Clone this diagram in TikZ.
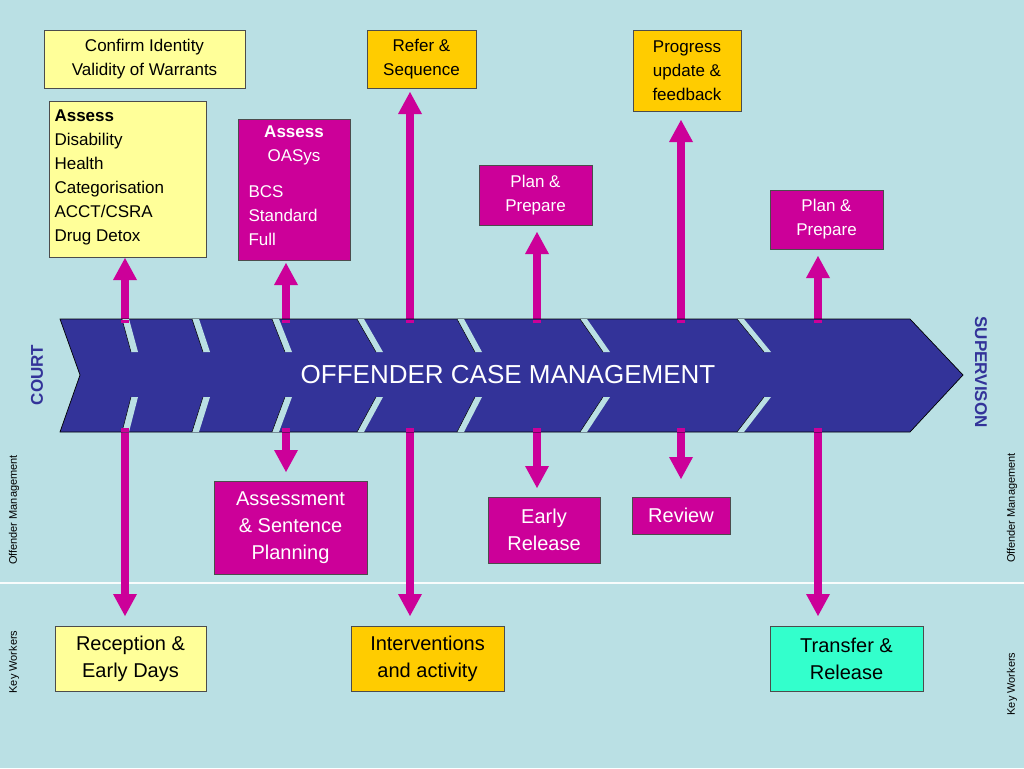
\documentclass[tikz,border=0pt]{standalone}
\usepackage{fontspec}
\setmainfont{Liberation Sans}
\begin{document}
\definecolor{bg}{RGB}{186,224,228}
\definecolor{mag}{RGB}{204,0,153}
\definecolor{yel}{RGB}{255,255,153}
\definecolor{org}{RGB}{255,204,0}
\definecolor{teal}{RGB}{51,255,204}
\definecolor{navy}{RGB}{51,51,153}
\begin{tikzpicture}[x=1pt,y=-1pt,
  box/.style={draw=black!70,line width=0.8pt,inner sep=0pt,font=\fontsize{17}{24}\selectfont,align=center},
  yb/.style={box,fill=yel},
  ob/.style={box,fill=org},
  mb/.style={box,fill=mag,text=white},
  arr/.style={mag,line width=8pt},
  tip/.style={fill=mag,draw=none},
  side/.style={text=navy,font=\bfseries\fontsize{17}{20}\selectfont},
  small/.style={font=\fontsize{11}{13}\selectfont}]
\fill[bg] (0,0) rectangle (1024,768);
\useasboundingbox (0,0) rectangle (1024,768);
\draw[white!90!bg,line width=1.5pt] (0,583) -- (1024,583);
% boxes
\node[yb,minimum width=201pt,minimum height=58pt] (ci) at (144.5,59) {Confirm Identity\\Validity of Warrants};
\node[yb,minimum width=157pt,minimum height=156pt,anchor=north west,text width=150pt,align=left,inner sep=0pt] (as) at (49,101) {};
\node[anchor=north west,align=left,font=\fontsize{17}{24}\selectfont] (ast) at (51,106) {\textbf{Assess}\\Disability\\Health\\Categorisation\\ACCT/CSRA\\Drug Detox};
\node[mb,minimum width=112pt,minimum height=141pt,anchor=north west] (oa) at (238,119) {};
\node[text=white,align=center,font=\fontsize{17}{24}\selectfont,anchor=north] (oat) at (294,122) {\textbf{Assess}\\OASys};
\node[text=white,align=left,font=\fontsize{17}{24}\selectfont,anchor=north west] (bcs) at (245,182) {BCS\\Standard\\Full};
\node[ob,minimum width=109pt,minimum height=58pt] (rs) at (421.5,59) {Refer \&\\Sequence};
\node[ob,minimum width=108pt,minimum height=81pt] (pu) at (687,70.5) {Progress\\update \&\\feedback};
\node[mb,minimum width=113pt,minimum height=60pt] (pp1) at (535.5,195) {Plan \&\\Prepare};
\node[mb,minimum width=113pt,minimum height=59pt] (pp2) at (826.5,219.5) {Plan \&\\Prepare};
\node[mb,minimum width=153pt,minimum height=93pt,font=\fontsize{20}{27}\selectfont] (asp) at (290.5,527.5) {Assessment\\\& Sentence\\Planning};
\node[mb,minimum width=112pt,minimum height=66pt,font=\fontsize{20}{27}\selectfont] (er) at (544,530) {Early\\Release};
\node[mb,minimum width=98pt,minimum height=37pt,font=\fontsize{20}{27}\selectfont] (rv) at (681,515.5) {Review};
\node[yb,minimum width=151pt,minimum height=65pt,font=\fontsize{20}{27}\selectfont] (rec) at (130.5,658.5) {Reception \&\\Early Days};
\node[ob,minimum width=153pt,minimum height=65pt,font=\fontsize{20}{27}\selectfont] (int) at (427.5,658.5) {Interventions\\and activity};
\node[box,fill=teal,minimum width=153pt,minimum height=65pt,font=\fontsize{20}{27}\selectfont] (tr) at (846.5,658.5) {Transfer \&\\Release};
% arrows (behind chevron)
\coordinate (c1) at (125,375); \coordinate (c2) at (286,375); \coordinate (c3) at (410,375);
\coordinate (c4) at (537,375); \coordinate (c5) at (681,375); \coordinate (c6) at (818,375);
\foreach \x/\up/\dn in {125/258/616,286/263/472,410/92/616,537/232/488,681/120/479,818/256/616}{
  \draw[arr] (\x,\up+18) -- (\x,\dn-18);
  \fill[tip] (\x,\up) -- (\x+12,\up+22) -- (\x-12,\up+22) -- cycle;
  \fill[tip] (\x,\dn) -- (\x+12,\dn-22) -- (\x-12,\dn-22) -- cycle;
}
% chevron
\draw[fill=navy,draw=black,line width=0.7pt] (60,319) -- (910,319) -- (963,375) -- (910,432) -- (60,432) -- (80,375) -- cycle;
\foreach \a/\b in {122/131,192/203,272/285,357/376,457/475,580/603,737/764}{
  \fill[bg] (\a,319) -- (\a+7,319) -- (\b+7,352) -- (\b,352) -- cycle;
  \fill[bg] (\a,432) -- (\a+7,432) -- (\b+7,397) -- (\b,397) -- cycle;
  \draw[black,line width=0.5pt] (\a,319) -- (\b,352) (\a,432) -- (\b,397);
}
\foreach \x in {125,286,410,537,681,818}{
  \fill[mag] (\x-4,319.5) rectangle (\x+4,323);
  \fill[mag] (\x-4,428) rectangle (\x+4,431.5);
}
\node[text=white,font=\fontsize{26}{30}\selectfont] (title) at (508,375) {OFFENDER CASE MANAGEMENT};
% side labels
\node[side,rotate=90] (court) at (37,375) {COURT};
\node[side,rotate=-90] (sup) at (981,372) {SUPERVISON};
\node[small,rotate=90] (om1) at (14,510) {Offender Management};
\node[small,rotate=90] (om2) at (1012,508) {Offender Management};
\node[small,rotate=90] (kw1) at (14,662) {Key Workers};
\node[small,rotate=90] (kw2) at (1012,684) {Key Workers};
\end{tikzpicture}
\end{document}
